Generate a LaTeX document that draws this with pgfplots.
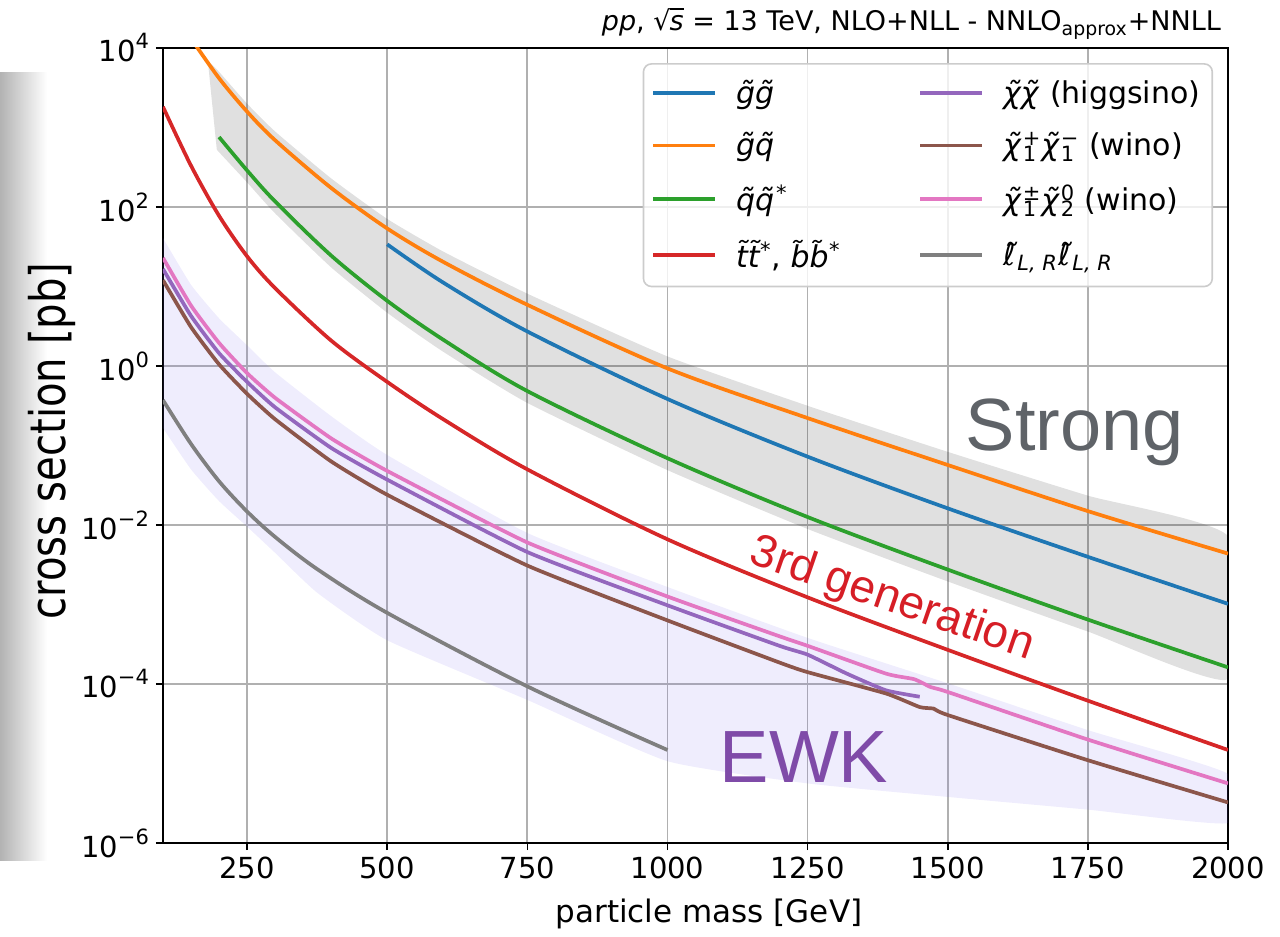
\documentclass[border=0pt]{standalone}
\usepackage{fontspec}
\setmainfont{DejaVu Sans}
\newfontfamily\arialfont{Liberation Sans}
\newfontfamily\ylabfont[FakeStretch=0.82]{DejaVu Sans}
\usepackage{pgfplots}
\pgfplotsset{compat=1.18}
\definecolor{tabblue}{HTML}{1F77B4}
\definecolor{taborange}{HTML}{FF7F0E}
\definecolor{tabgreen}{HTML}{2CA02C}
\definecolor{tabred}{HTML}{D62728}
\definecolor{tabpurple}{HTML}{9467BD}
\definecolor{tabbrown}{HTML}{8C564B}
\definecolor{tabpink}{HTML}{E377C2}
\definecolor{tabgray}{HTML}{7F7F7F}
\definecolor{gridgray}{rgb}{0.69,0.69,0.69}
\definecolor{strongcol}{RGB}{95,99,104}
\definecolor{ewkcol}{RGB}{127,75,168}
\definecolor{gencol}{RGB}{214,30,38}
\definecolor{lavender}{RGB}{123,104,238}
\definecolor{legframe}{RGB}{204,204,204}
\newcommand\supsub[2]{\begingroup\setbox0\hbox{\textsuperscript{#1}}\setbox2\hbox{\textsubscript{#2}}\ifdim\wd0>\wd2 \rlap{\box2}\box0\else\rlap{\box0}\box2\fi\endgroup}
\newcommand\tenexp[1]{10\raisebox{0.45em}{\fontsize{10.5}{12}\selectfont #1}}
\begin{document}
\begin{tikzpicture}
\shade[left color=black!30, right color=white] (-81.5pt,-9pt) rectangle (-58pt,385pt);
\begin{axis}[
  at={(0,0)}, anchor=south west,
  scale only axis, width=532.5pt, height=397.5pt,
  xmin=100, xmax=2000, ymode=log, ymin=1e-6, ymax=1e4,
  xtick={250,500,750,1000,1250,1500,1750,2000},
  xticklabels={250,500,750,1000,1250,1500,1750,2000},
  ytick={1e-6,1e-4,1e-2,1,1e2,1e4},
  yticklabels={\tenexp{−6},\tenexp{−4},\tenexp{−2},\tenexp{0},\tenexp{2},\tenexp{4}},
  yminorticks=false, xminorticks=false,
  grid=major, major grid style={color=gridgray, line width=0.85pt},
  tick align=outside, xtick pos=left, ytick pos=left,
  major tick length=3.5pt, tick style={black, line width=0.8pt},
  axis line style={line width=1pt, black},
  tick label style={font=\fontsize{14.5}{17}\selectfont},
  clip mode=individual,
  legend columns=4, transpose legend, legend cell align=left,
  legend style={at={(0.986,0.981)}, anchor=north east,
    draw=legframe, line width=0.8pt, rounded corners=4pt,
    fill=white, fill opacity=0.8, text opacity=1,
    font=\fontsize{15}{18}\selectfont,
    inner xsep=4pt, inner ysep=6pt, row sep=9pt,
    /tikz/every even column/.append style={column sep=37pt},
    /tikz/every odd column/.append style={column sep=7.5pt}},
  legend image code/.code={\draw[#1] (0pt,0pt) -- (31pt,0pt);},
  every axis plot/.append style={line width=1.85pt},
]
% Strong band
\addplot[forget plot, draw=none, fill=black, fill opacity=0.12, smooth, tension=0.3] coordinates {
(180,6918) (200,5012) (250,1995) (300,891) (400,229) (500,70.8) (600,27.5) (750,8.13) (1000,1.32) (1250,0.316) (1500,0.0832) (1750,0.0234) (2000,7.24e-3)
(2000,1.15e-4) (1750,4.57e-4) (1500,1.95e-3) (1250,8.91e-3) (1000,0.0490) (750,0.343) (600,1.51) (500,4.68) (400,17.4) (300,83.2) (250,204) (196,525)
} -- cycle;
% EWK band
\addplot[forget plot, draw=none, fill=lavender, fill opacity=0.12, smooth, tension=0.3] coordinates {
(100,40.7) (150,10.5) (200,3.98) (250,1.82) (300,0.832) (400,0.234) (500,0.0759) (750,7.94e-3) (1000,1.66e-3) (1250,3.80e-4) (1500,1.02e-4) (1750,2.63e-5) (2000,7.41e-6)
(2000,1.78e-6) (1750,2.63e-6) (1500,3.80e-6) (1250,5.62e-6) (1000,1.07e-5) (750,6.31e-5) (500,3.55e-4) (375,1.41e-3) (300,4.47e-3) (250,9.55e-3) (200,0.0200) (150,0.0501) (100,0.166)
} -- cycle;
% gluino pair
\addplot[tabblue, smooth] coordinates {
(500,33.9) (600,11.2) (750,2.72) (1000,0.385) (1250,0.0724) (1500,0.0162) (1750,3.98e-3) (2000,1.02e-3)};
\addlegendentry{\textit{g̃g̃}}
% gluino squark
\addplot[taborange, smooth] coordinates {
(150,13183) (200,4169) (250,1585) (300,691.8) (400,173.8) (500,53.7) (600,20.4) (750,5.89) (1000,0.933) (1250,0.2213) (1500,0.0569) (1750,0.01496) (2000,4.37e-3)};
\addlegendentry{\textit{g̃q̃}}
% squark antisquark
\addplot[tabgreen, smooth] coordinates {
(200,758.6) (250,288.4) (300,117.5) (400,24.5) (500,6.61) (600,2.14) (750,0.484) (1000,0.0692) (1250,0.0126) (1500,2.75e-3) (1750,6.46e-4) (2000,1.62e-4)};
\addlegendentry{\textit{q̃q̃}\textsuperscript{*}}
% stop / sbottom
\addplot[tabred, smooth] coordinates {
(100,1820) (150,331) (200,77.6) (250,24.0) (300,9.55) (400,2.09) (500,0.631) (600,0.214) (750,0.0501) (1000,6.61e-3) (1250,1.23e-3) (1500,2.69e-4) (1750,6.17e-5) (2000,1.48e-5)};
\addlegendentry{\textit{t̃t̃}\textsuperscript{*}, \textit{b̃b̃}\textsuperscript{*}}
% higgsino
\addplot[tabpurple, smooth, tension=0.3] coordinates {
(100,16.6) (150,4.27) (200,1.45) (250,0.631) (300,0.302) (400,0.0933) (500,0.0372) (750,4.57e-3) (1000,9.77e-4) (1200,3.02e-4) (1250,2.34e-4) (1320,1.35e-4) (1390,8.32e-5) (1450,6.92e-5)};
\addlegendentry{\textit{χ̃χ̃} (higgsino)}
% wino C1C1
\addplot[tabbrown, smooth, tension=0.3] coordinates {
(100,12.0) (150,3.09) (200,1.05) (250,0.447) (300,0.214) (400,0.0631) (500,0.0240) (750,3.09e-3) (1000,6.31e-4) (1200,1.86e-4) (1250,1.41e-4) (1390,7.59e-5) (1450,5.13e-5) (1475,4.90e-5) (1500,4.07e-5) (1750,1.10e-5) (2000,3.24e-6)};
\addlegendentry{\textit{χ̃}\supsub{+}{1}\textit{χ̃}\supsub{−}{1} (wino)}
% wino C1N2
\addplot[tabpink, smooth, tension=0.3] coordinates {
(100,22.9) (150,5.75) (200,1.95) (250,0.813) (300,0.398) (400,0.123) (500,0.0479) (750,6.03e-3) (1000,1.26e-3) (1200,3.98e-4) (1250,3.02e-4) (1390,1.35e-4) (1440,1.15e-4) (1470,9.12e-5) (1500,7.94e-5) (1750,2.0e-5) (2000,5.62e-6)};
\addlegendentry{\textit{χ̃}\supsub{±}{1}\textit{χ̃}\supsub{0}{2} (wino)}
% sleptons
\addplot[tabgray, smooth] coordinates {
(100,0.372) (150,0.1047) (200,0.0355) (250,0.01479) (300,7.08e-3) (375,2.79e-3) (500,7.85e-4) (750,9.33e-5) (1000,1.48e-5)};
\addlegendentry{\textit{ℓ̃}\textsubscript{\textit{L, R}}\textit{ℓ̃}\textsubscript{\textit{L, R}}}
% annotations
\node[anchor=base, font=\arialfont\fontsize{37}{40}\selectfont, text=strongcol] at (rel axis cs:0.8563,0.4943) {Strong};
\node[anchor=base, font=\arialfont\fontsize{37}{40}\selectfont, text=ewkcol] at (rel axis cs:0.6019,0.0755) {EWK};
\node[rotate=-19, font=\arialfont\fontsize{23}{26}\selectfont, text=gencol] at (rel axis cs:0.6845,0.3057) {3rd generation};
\node[rotate=90, font=\ylabfont\fontsize{24.5}{28}\selectfont] at (rel axis cs:-0.1042,0.5057) {cross section [pb]};
\node[anchor=base, font=\fontsize{15.5}{18}\selectfont] at (rel axis cs:0.5127,-0.1006) {particle mass [GeV]};
\node[anchor=base east, font=\fontsize{13.5}{16}\selectfont, yshift=8.5pt] at (rel axis cs:1,1) {\textit{pp}, √\kern-0.03em\rlap{\rule[0.78em]{0.52em}{0.055em}}\textit{s} = 13 TeV, NLO+NLL - NNLO\textsubscript{approx}+NNLL};
\end{axis}
\pgfresetboundingbox
\useasboundingbox (-81.5pt,-47pt) rectangle (558.5pt,421.5pt);
\end{tikzpicture}
\end{document}
